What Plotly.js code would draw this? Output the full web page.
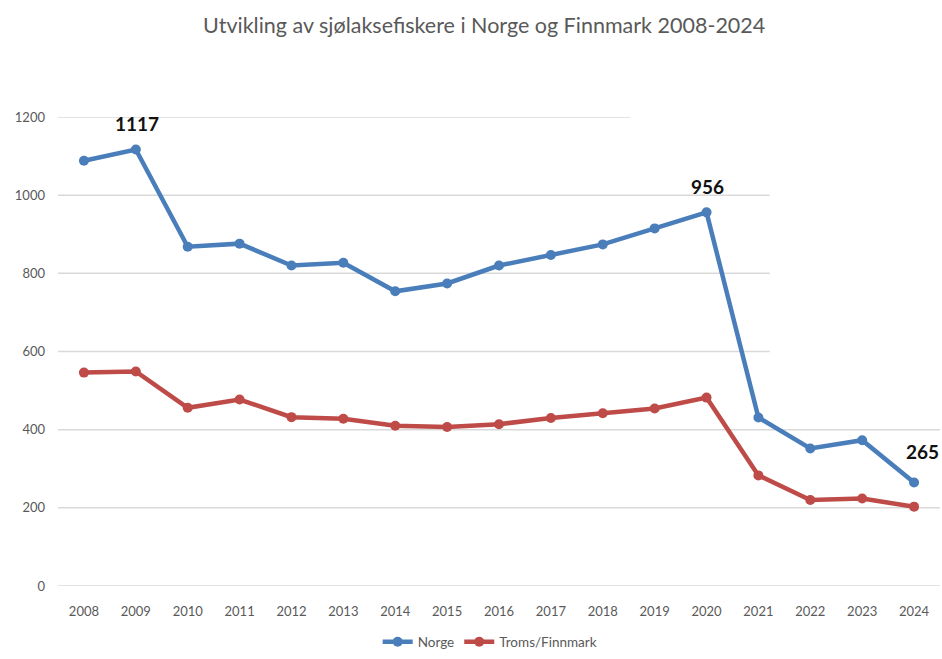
<!DOCTYPE html>
<html>
<head>
<meta charset="utf-8">
<script src="https://cdn.plot.ly/plotly-3.0.1.min.js"></script>
<style>html,body{margin:0;padding:0;background:#fff;}#chart{width:942px;height:659px;}</style>
</head>
<body>
<div id="chart"></div>
<script>
const years = ["2008","2009","2010","2011","2012","2013","2014","2015","2016","2017","2018","2019","2020","2021","2022","2023","2024"];
const norge = [1088, 1117, 868, 876, 820, 827, 754, 774, 820, 847, 874, 915, 956, 431, 352, 373, 265];
const tromsFinnmark = [546, 549, 456, 477, 432, 428, 410, 407, 414, 430, 442, 454, 482, 283, 220, 224, 203];
const labelledIdx = [1, 12, 16];
const yTicks = [0, 200, 400, 600, 800, 1000, 1200];
const titleText = "Utvikling av sjølaksefiskere i Norge og Finnmark 2008-2024";

const font = 'Lato, "Liberation Sans", sans-serif';
const gridEnds = {0:1, 200:1, 400:1, 600:0.807, 800:0.807, 1000:0.807, 1200:0.6485};

const traces = [
  {x: years, y: norge, name: "Norge", type: "scatter", mode: "lines+markers",
   line: {color: "#4a7ebb", width: 4.5}, marker: {color: "#4a7ebb", size: 10}},
  {x: years, y: tromsFinnmark, name: "Troms/Finnmark", type: "scatter", mode: "lines+markers",
   line: {color: "#be4b48", width: 4.5}, marker: {color: "#be4b48", size: 10}}
];

const shapes = yTicks.map(v => ({type: "line", xref: "paper", yref: "y", x0: 0, x1: gridEnds[v], y0: v, y1: v,
  line: {color: "#d9d9d9", width: 1.5}, layer: "below"}));

const annotations = labelledIdx.map((i, k) => ({
  x: i, y: norge[i], xref: "x", yref: "y", text: "<b>" + norge[i] + "</b>", showarrow: false,
  yshift: k === 2 ? 31 : 26, xshift: k === 2 ? 8 : 1,
  font: {family: font, size: 19, color: "#111"}
}));

const layout = {
  width: 942, height: 659,
  margin: {l: 58, r: 2, t: 117, b: 40},
  paper_bgcolor: "#fff", plot_bgcolor: "#fff",
  title: {text: titleText, x: 0.514, xanchor: "center", y: 0.962, yanchor: "middle",
          font: {family: font, size: 21.5, color: "#595959"}},
  xaxis: {type: "category", range: [-0.5, 16.5], showgrid: false, zeroline: false, showline: false,
          ticks: "", ticklabelstandoff: 16, tickfont: {family: font, size: 13, color: "#595959"}, fixedrange: true},
  yaxis: {range: [0, 1200], domain: [0.062, 1], tickvals: yTicks, showgrid: false, zeroline: false, showline: false,
          ticks: "", ticklabelstandoff: 12, tickfont: {family: font, size: 13, color: "#595959"}, fixedrange: true},
  shapes: shapes,
  annotations: annotations,
  showlegend: true,
  legend: {orientation: "h", x: 0.49, xanchor: "center", y: -0.05, yanchor: "middle",
           font: {family: font, size: 13.5, color: "#595959"}, itemwidth: 30, tracegroupgap: 0}
};

Plotly.newPlot("chart", traces, layout, {displayModeBar: false, staticPlot: true});
</script>
</body>
</html>
